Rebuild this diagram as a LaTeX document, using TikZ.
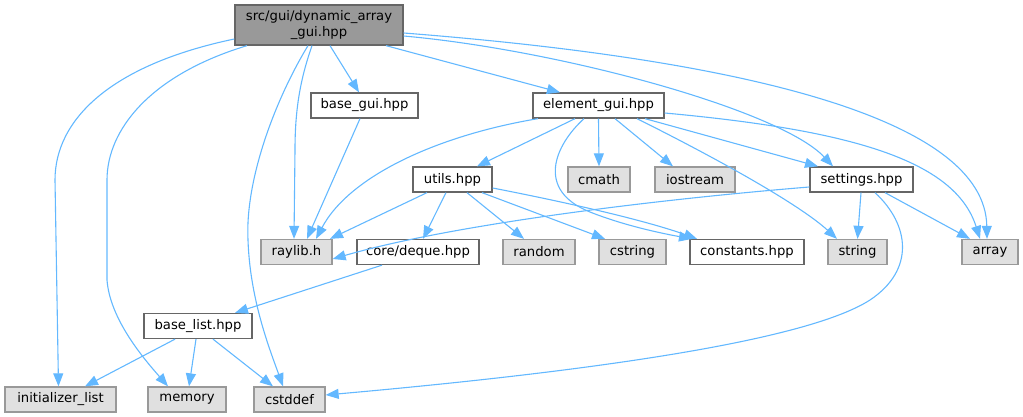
\documentclass[tikz,border=0pt]{standalone}
\usepackage{fontspec}
\setmainfont{DejaVu Sans}
\usetikzlibrary{arrows.meta}
\definecolor{edgec}{HTML}{63B8FF}
\definecolor{docborder}{HTML}{666666}
\definecolor{leafborder}{HTML}{999999}
\definecolor{leaffill}{HTML}{E0E0E0}
\definecolor{rootfill}{HTML}{999999}
\begin{document}
\begin{tikzpicture}[x=1pt,y=-1pt,
  box/.style={draw, line width=1.3pt, inner sep=0pt, minimum height=25pt, font=\fontsize{13.2}{16}\selectfont, anchor=center},
  doc/.style={box, draw=docborder, fill=white},
  leaf/.style={box, draw=leafborder, fill=leaffill},
  rootbox/.style={box, draw=docborder, fill=rootfill, align=center, minimum height=40pt},
  edge/.style={draw=edgec, line width=1.1pt, -{Triangle[length=13pt,width=10pt]}}
]
\useasboundingbox (0,0) rectangle (1023,417);
% nodes
\node[rootbox, minimum width=168pt] (root) at (319,25) {src/gui/dynamic\_array\\\_gui.hpp};
\node[doc, minimum width=107pt] (basegui) at (364.5,105.5) {base\_gui.hpp};
\node[doc, minimum width=131pt] (element) at (598.5,105.5) {element\_gui.hpp};
\node[doc, minimum width=79pt] (utils) at (452.5,179.5) {utils.hpp};
\node[leaf, minimum width=62pt] (cmath) at (599,179.5) {cmath};
\node[leaf, minimum width=80pt] (iostream) at (695,179.5) {iostream};
\node[doc, minimum width=103pt] (settings) at (861.5,179.5) {settings.hpp};
\node[leaf, minimum width=71pt] (raylib) at (296.5,252) {raylib.h};
\node[doc, minimum width=122pt] (deque) at (418,252) {core/deque.hpp};
\node[leaf, minimum width=72pt] (random) at (539,252) {random};
\node[leaf, minimum width=67pt] (cstring) at (632.5,252) {cstring};
\node[doc, minimum width=114pt] (constants) at (747,252) {constants.hpp};
\node[leaf, minimum width=59pt] (string) at (857.5,252) {string};
\node[leaf, minimum width=56pt] (array) at (990,252) {array};
\node[doc, minimum width=108pt] (baselist) at (198,326) {base\_list.hpp};
\node[leaf, minimum width=111pt] (init) at (60.5,399.5) {initializer\_list};
\node[leaf, minimum width=78pt] (memory) at (187,399.5) {memory};
\node[leaf, minimum width=71pt] (cstddef) at (289.5,399.5) {cstddef};
% edges from root
\draw[edge] ([yshift=-14pt]root.west) .. controls (110,65) and (55,120) .. (55,180) -- ([xshift=-2pt]init.north);
\draw[edge] ([xshift=-72pt]root.south) .. controls (150,75) and (107,130) .. (107,180) -- (107,280) .. controls (110,320) and (145,360) .. ([xshift=-19pt]memory.north);
\draw[edge] ([xshift=-11pt]root.south) .. controls (275,100) and (245,180) .. (248,240) .. controls (250,300) and (270,350) .. ([xshift=-6.5pt]cstddef.north);
\draw[edge] ([xshift=-7pt]root.south) .. controls (300,80) and (295,110) .. (295,150) -- ([xshift=-2.5pt]raylib.north);
\draw[edge] ([xshift=11pt]root.south) -- ([xshift=-5.5pt]basegui.north);
\draw[edge] ([xshift=67pt]root.south) -- ([xshift=-38.5pt]element.north);
\draw[edge] ([yshift=-11pt]root.east) .. controls (560,50) and (780,110) .. ([xshift=-28.5pt]settings.north);
\draw[edge] ([yshift=-8pt]root.east) .. controls (750,60) and (985,120) .. ([xshift=-3pt]array.north);
% base_gui
\draw[edge] ([xshift=-4.5pt]basegui.south) -- ([xshift=10.5pt]raylib.north);
% element_gui
\draw[edge] ([xshift=-60.5pt]element.south) .. controls (440,135) and (350,175) .. ([xshift=19.5pt]raylib.north);
\draw[edge] ([xshift=-23.5pt]element.south) -- ([xshift=24.5pt]utils.north);
\draw[edge] ([xshift=-14.5pt]element.south) .. controls (555,145) and (535,190) .. (590,212) .. controls (625,226) and (665,234) .. ([xshift=-55pt]constants.north);
\draw[edge] (element.south) -- (cmath.north);
\draw[edge] ([xshift=16.5pt]element.south) -- ([xshift=-22pt]iostream.north);
\draw[edge] ([xshift=38.5pt]element.south) .. controls (720,160) and (800,205) .. ([xshift=-20.5pt]string.north);
\draw[edge] ([xshift=46.5pt]element.south) -- ([xshift=-43.5pt]settings.north);
\draw[edge] ([yshift=-7.5pt]element.east) .. controls (850,130) and (955,160) .. ([xshift=-10pt]array.north);
% utils
\draw[edge] ([xshift=-25.5pt]utils.south) -- ([xshift=33.5pt]raylib.north);
\draw[edge] ([xshift=-6.5pt]utils.south) -- ([xshift=5pt]deque.north);
\draw[edge] ([xshift=14.5pt]utils.south) -- ([xshift=-15pt]random.north);
\draw[edge] ([xshift=29.5pt]utils.south) -- ([xshift=-27.5pt]cstring.north);
\draw[edge] ([yshift=-8.5pt]utils.east) .. controls (580,205) and (650,222) .. ([xshift=-50pt]constants.north);
% settings
\draw[edge] ([yshift=-7.5pt]settings.west) .. controls (650,200) and (450,225) .. ([yshift=-7pt]raylib.east);
\draw[edge] ([xshift=-0.5pt]settings.south) -- (string.north);
\draw[edge] ([xshift=13.5pt]settings.south) .. controls (910,225) and (915,270) .. (870,300) .. controls (800,345) and (550,375) .. ([yshift=4.5pt]cstddef.east);
\draw[edge] ([xshift=23.5pt]settings.south) -- ([xshift=-20pt]array.north);
% deque
\draw[edge] ([xshift=-36pt]deque.south) -- ([xshift=37pt]baselist.north);
% base_list
\draw[edge] ([xshift=-23pt]baselist.south) -- ([xshift=24.5pt]init.north);
\draw[edge] ([xshift=-2pt]baselist.south) -- ([xshift=2pt]memory.north);
\draw[edge] ([xshift=15pt]baselist.south) -- ([xshift=-16.5pt]cstddef.north);
\end{tikzpicture}
\end{document}
